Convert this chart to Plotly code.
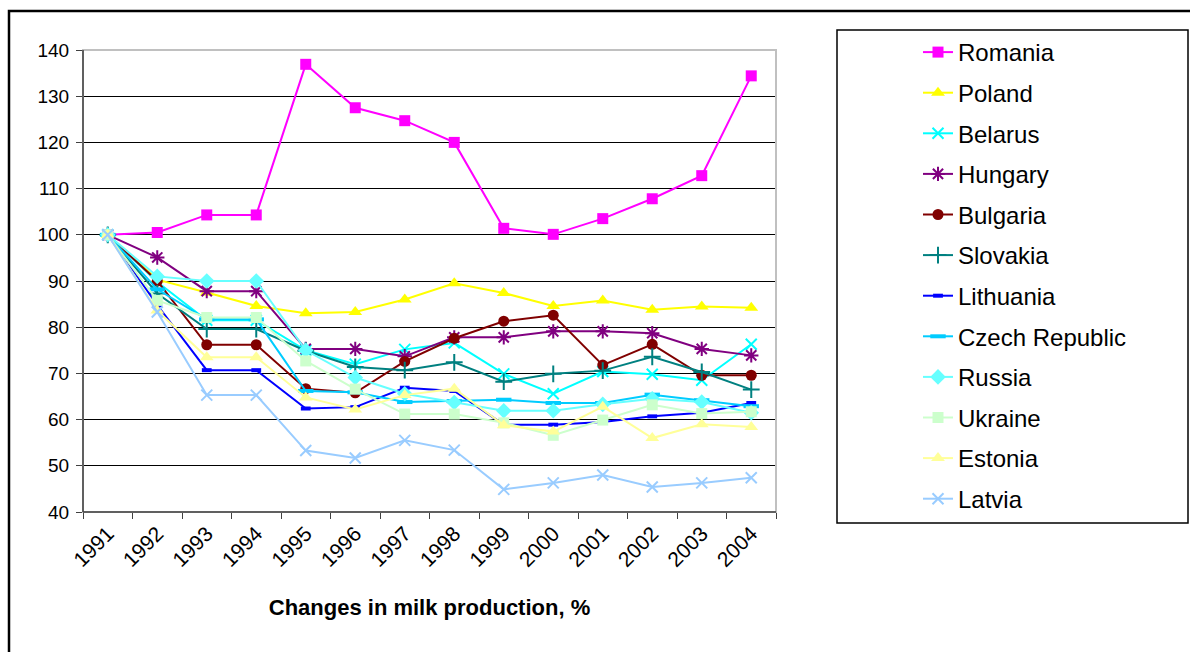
import plotly.graph_objects as go

years = ["1991", "1992", "1993", "1994", "1995", "1996", "1997",
         "1998", "1999", "2000", "2001", "2002", "2003", "2004"]

romania = [100, 100.5, 104.3, 104.3, 136.9, 127.5, 124.7, 120.0, 101.4, 100.1, 103.5, 107.8, 112.8, 134.4]
poland = [100, 90.3, 87.5, 84.6, 83.0, 83.3, 86.0, 89.5, 87.4, 84.6, 85.8, 83.8, 84.5, 84.2]
belarus = [100, 89.8, 81.5, 81.5, 75.0, 72.0, 75.2, 76.6, 69.9, 65.6, 70.4, 69.8, 68.5, 76.3]
hungary = [100, 95.1, 87.8, 87.8, 75.3, 75.3, 73.7, 77.8, 77.8, 79.1, 79.1, 78.7, 75.3, 73.9]
bulgaria = [100, 90.0, 76.2, 76.2, 66.7, 65.8, 72.6, 77.6, 81.3, 82.6, 71.8, 76.3, 69.6, 69.6]
slovakia = [100, 87.3, 79.6, 79.6, 74.9, 71.4, 70.7, 72.4, 68.2, 69.9, 70.6, 73.6, 70.3, 66.5]
lithuania = [100, 84.8, 70.7, 70.7, 62.4, 62.7, 66.9, 66.2, 58.9, 58.9, 59.5, 60.7, 61.5, 63.6]
czech = [100, 88.2, 81.7, 81.7, 66.2, 65.9, 63.8, 64.0, 64.3, 63.6, 63.6, 65.4, 64.2, 62.9]
russia = [100, 91.0, 90.0, 90.0, 75.0, 69.1, 65.6, 63.7, 61.9, 61.9, 63.3, 64.5, 63.8, 61.5]
ukraine = [100, 85.8, 82.1, 82.1, 72.7, 66.6, 61.2, 61.2, 59.3, 56.6, 59.9, 63.2, 61.3, 61.7]
estonia = [100, 83.6, 73.5, 73.5, 64.8, 62.2, 65.3, 66.7, 58.8, 57.4, 62.8, 56.0, 59.0, 58.4]
latvia = [100, 83.3, 65.3, 65.3, 53.3, 51.7, 55.5, 53.4, 44.9, 46.3, 48.0, 45.4, 46.3, 47.4]

series = [
    ("Romania", romania, "#FF00FF", "square", 11, 0),
    ("Poland", poland, "#FFFF00", "triangle-up", 12, 0),
    ("Belarus", belarus, "#00FFFF", "x-thin-open", 11, 2),
    ("Hungary", hungary, "#800080", "asterisk-open", 12, 2),
    ("Bulgaria", bulgaria, "#800000", "circle", 11, 0),
    ("Slovakia", slovakia, "#008080", "cross-thin-open", 12, 2),
    ("Lithuania", lithuania, "#0000FF", "line-ew-open", 7, 4),
    ("Czech Republic", czech, "#00CCFF", "line-ew-open", 11, 4),
    ("Russia", russia, "#66FFFF", "diamond", 12, 0),
    ("Ukraine", ukraine, "#CCFFCC", "square", 11, 0),
    ("Estonia", estonia, "#FFFF99", "triangle-up", 12, 0),
    ("Latvia", latvia, "#99CCFF", "x-thin-open", 11, 2),
]

FONT = "Liberation Sans, Arial, sans-serif"

fig = go.Figure()
for i, (name, vals, color, sym, size, lw) in enumerate(series):
    marker = dict(symbol=sym, size=size, color=color)
    if lw:
        marker["line"] = dict(color=color, width=lw)
    else:
        marker["line"] = dict(width=0)
    fig.add_trace(go.Scatter(
        x=years, y=vals, name=name, mode="lines+markers",
        line=dict(color=color, width=2), marker=marker,
        legendgroup=f"g{i}",
    ))

L, R, T, B = 83, 776, 50, 512
W, H = 1190, 652
pw, ph = R - L, B - T

def px_x(x):
    return (x - L) / pw

def px_y(y):
    return (B - y) / ph

fig.update_layout(
    width=W, height=H,
    margin=dict(l=L, r=W - R, t=T, b=H - B, pad=0),
    paper_bgcolor="white", plot_bgcolor="white",
    font=dict(family=FONT, color="black"),
    showlegend=True,
    legend=dict(
        x=px_x(918), y=px_y(30), xanchor="left", yanchor="top",
        font=dict(family=FONT, size=24, color="black"),
        bgcolor="rgba(0,0,0,0)", borderwidth=0,
        tracegroupgap=6.4, traceorder="grouped", maxheight=640,
    ),
    xaxis=dict(
        type="category", tickson="boundaries", ticks="outside", ticklen=6,
        tickcolor="#404040", showline=True, linecolor="#404040", linewidth=1,
        showgrid=False, tickangle=-45,
        tickfont=dict(family=FONT, size=21, color="black"),
        title=dict(text="<b>Changes in milk production, %</b>",
                   font=dict(family=FONT, size=22, color="black"), standoff=29),
        range=[-0.5, 13.5],
    ),
    yaxis=dict(
        range=[40, 140], dtick=10, ticks="outside", ticklen=6,
        tickcolor="#404040", showline=True, linecolor="#404040", linewidth=1,
        showgrid=True, gridcolor="#000000", gridwidth=1, zeroline=False,
        tickfont=dict(family=FONT, size=19, color="black"),
        ticklabelstandoff=3,
    ),
    shapes=[
        dict(type="rect", xref="paper", yref="paper", x0=0, x1=1, y0=0, y1=1,
             line=dict(color="#C0C0C0", width=2), layer="above"),
        dict(type="line", xref="paper", yref="paper", x0=0, x1=0, y0=0, y1=1,
             line=dict(color="#404040", width=1.5), layer="above"),
        dict(type="line", xref="paper", yref="paper", x0=0, x1=1, y0=0, y1=0,
             line=dict(color="#404040", width=1.5), layer="above"),
        dict(type="rect", xref="paper", yref="paper",
             x0=px_x(837), x1=px_x(1188), y0=px_y(523), y1=px_y(30),
             line=dict(color="black", width=1.5), layer="above"),
        dict(type="rect", xref="paper", yref="paper",
             x0=px_x(9), x1=px_x(1300), y0=px_y(800), y1=px_y(11),
             line=dict(color="black", width=2.5), layer="above"),
    ],
)

fig.write_html(
    "out.html",
    config={"displayModeBar": False},
    post_script="document.body.style.margin='0';document.body.style.overflow='hidden';",
)
